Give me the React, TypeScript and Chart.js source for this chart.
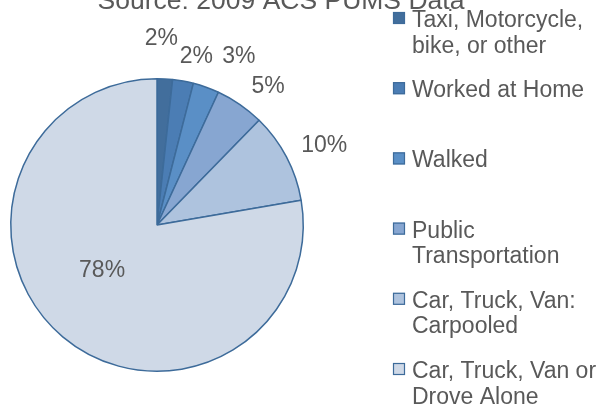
import React, { useEffect, useRef } from "react";
import { Chart, registerables } from "chart.js";

Chart.register(...registerables);

const TITLE = "Source: 2009 ACS PUMS Data";
const categories: string[][] = [
  ["Taxi, Motorcycle,", "bike, or other"],
  ["Worked at Home"],
  ["Walked"],
  ["Public", "Transportation"],
  ["Car, Truck, Van:", "Carpooled"],
  ["Car, Truck, Van or", "Drove Alone"],
];
const shares = [1.7, 2.3, 2.9, 5.4, 10.0, 77.7];
const colors = ["#426e9c", "#4b7db4", "#5a8fc6", "#87a6d1", "#aec3de", "#cfd9e7"];
const BORDER = "#3d6b9a";
const TEXT = "#595959";
const FONT = "'Liberation Sans', Arial, sans-serif";

// label placement tweaks relative to each arc (degrees, px beyond outer radius)
const labelAngleNudge = [-1.7, 2.9, 6.3, 4.2, 2.2, 10.3];
const labelRadialNudge = [40.6, 26.6, 40.8, 31.2, 39, -75];

const drawPlugin = {
  id: "customDraw",
  afterDraw(chart: any) {
    const ctx = chart.ctx as CanvasRenderingContext2D;
    const meta = chart.getDatasetMeta(0);
    ctx.save();
    // title
    ctx.fillStyle = TEXT;
    ctx.font = `26.5px ${FONT}`;
    ctx.textAlign = "center";
    ctx.textBaseline = "alphabetic";
    ctx.fillText(TITLE, 281, 9);

    // percent labels
    ctx.font = `23px ${FONT}`;
    ctx.textBaseline = "middle";
    meta.data.forEach((arc: any, i: number) => {
      const { x, y, startAngle, endAngle, outerRadius } = arc.getProps(
        ["x", "y", "startAngle", "endAngle", "outerRadius"],
        true
      );
      const mid = (startAngle + endAngle) / 2 + (labelAngleNudge[i] * Math.PI) / 180;
      const r = outerRadius + labelRadialNudge[i];
      const lx = x + Math.cos(mid) * r;
      const ly = y + Math.sin(mid) * r;
      ctx.fillText(Math.round(shares[i]) + "%", lx, ly);
    });

    // legend
    const lx0 = 393;
    const tx0 = 412;
    const firstBaseline = 27;
    const itemStep = 70.2;
    const lineH = 25.5;
    ctx.font = `23px ${FONT}`;
    ctx.textAlign = "left";
    ctx.textBaseline = "alphabetic";
    categories.forEach((lines, i) => {
      const base = firstBaseline + i * itemStep;
      ctx.fillStyle = colors[i];
      ctx.fillRect(lx0, base - 15, 12, 12);
      ctx.strokeStyle = BORDER;
      ctx.lineWidth = 1.2;
      ctx.strokeRect(lx0 + 0.5, base - 14.5, 11, 11);
      ctx.fillStyle = TEXT;
      lines.forEach((t, j) => ctx.fillText(t, tx0, base + j * lineH));
    });
    ctx.restore();
  },
};

export default function App() {
  const ref = useRef<HTMLCanvasElement>(null);
  useEffect(() => {
    if (!ref.current) return;
    const chart = new Chart(ref.current, {
      type: "pie",
      data: {
        labels: categories.map((l) => l.join(" ")),
        datasets: [
          {
            data: shares,
            backgroundColor: colors,
            borderColor: BORDER,
            borderWidth: 1.5,
          },
        ],
      },
      options: {
        animation: false,
        responsive: false,
        layout: { padding: { left: 10, right: 292, top: 78, bottom: 44 } },
        plugins: {
          legend: { display: false },
          title: { display: false },
          tooltip: { enabled: false },
        },
      },
      plugins: [drawPlugin],
    });
    return () => chart.destroy();
  }, []);
  return (
    <div style={{ position: "fixed", left: 0, top: 0, width: 596, height: 416, background: "#fff" }}>
      <canvas ref={ref} width={596} height={416} />
    </div>
  );
}
